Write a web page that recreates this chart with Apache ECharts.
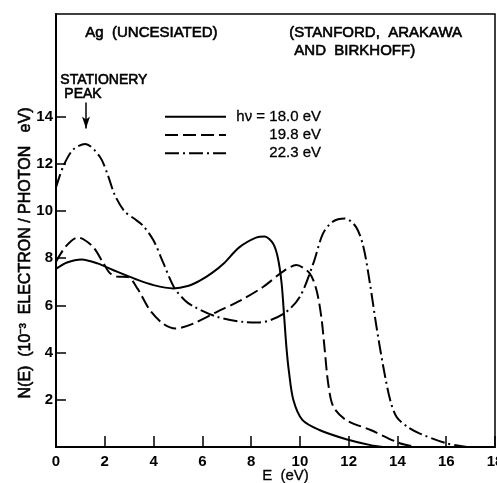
<!DOCTYPE html>
<html><head><meta charset="utf-8">
<script src="https://cdn.jsdelivr.net/npm/echarts@6/dist/echarts.min.js"></script>
<style>html,body{margin:0;padding:0;background:#fff}#c{width:497px;height:483px}</style>
</head><body><div id="c"></div>
<script>
const xTicks = [0,2,4,6,8,10,12,14,16,18];
const yTicks = [2,4,6,8,10,12,14];
const seriesNames = ['hν = 18.0 eV','19.8 eV','22.3 eV'];
const curve18 = [[0,7.55],[0.45,7.82],[1.05,7.95],[1.7,7.78],[2.5,7.43],[3.3,7.1],[4.0,6.86],[4.8,6.72],[5.4,6.82],[5.9,7.05],[6.4,7.38],[6.9,7.8],[7.5,8.45],[8.2,8.87],[8.55,8.92],[8.9,8.62],[9.1,8.0],[9.25,6.94],[9.35,5.6],[9.45,4.2],[9.55,3.2],[9.73,2.0],[10.1,1.15],[10.8,0.72],[11.9,0.33],[12.9,0.08],[13.4,0]];
const curve198 = [[0,7.85],[0.4,8.5],[0.9,8.88],[1.5,8.5],[1.95,7.78],[2.2,7.38],[2.5,7.22],[2.95,7.2],[3.35,6.7],[3.85,5.8],[4.4,5.22],[4.9,5.02],[5.6,5.22],[6.6,5.73],[7.55,6.2],[8.5,6.79],[9.3,7.43],[9.85,7.71],[10.4,7.36],[10.68,6.65],[10.88,5.5],[11.02,4.1],[11.16,2.7],[11.37,1.71],[11.9,1.14],[12.9,0.72],[14.1,0.16],[14.8,0]];
const curve223 = [[0,11.0],[0.3,11.9],[0.7,12.6],[1.2,12.84],[1.8,12.3],[2.15,11.45],[2.4,10.7],[2.8,10.0],[3.2,9.68],[3.55,9.4],[4.0,8.75],[4.4,7.8],[4.85,6.75],[5.3,6.2],[5.65,5.95],[6.6,5.52],[7.7,5.3],[8.35,5.28],[9.35,5.66],[10.0,6.37],[10.55,7.78],[10.95,9.05],[11.35,9.55],[11.85,9.68],[12.3,9.33],[12.6,8.5],[12.87,6.94],[13.14,5.1],[13.42,3.4],[13.7,2.0],[13.96,1.28],[14.4,0.86],[14.9,0.58],[16.0,0.16],[16.85,0]];
const peakArrow = [[1.23,14.6],[1.23,13.5]];

const FONT = 'Liberation Sans';
const chart = echarts.init(document.getElementById('c'), null, {renderer:'canvas'});
function mk(name, data, type){
  return {name, type:'line', data, symbol:'none', showSymbol:false, smooth:0.3,
    lineStyle:{color:'#000', width:2, type}, itemStyle:{color:'#000'}, z:3};
}
const s3 = mk(seriesNames[2], curve223, [14,4,2,4]);
s3.markLine = {silent:true, symbol:['none','arrow'], symbolSize:[6,12], label:{show:false},
  lineStyle:{color:'#000', width:1.5, type:'solid'},
  data:[[{coord:peakArrow[0]},{coord:peakArrow[1]}]]};
const txt = (t, x, y, size, extra) => Object.assign({type:'text', left:x, top:y,
  style:{text:t, font:size+'px "Liberation Sans"', fill:'#000', stroke:'#000', lineWidth:0.6}}, extra||{});
chart.setOption({
  animation:false,
  backgroundColor:'#fff',
  textStyle:{fontFamily:FONT},
  grid:{left:56, right:2, top:14, bottom:36, show:true, borderColor:'#000', borderWidth:1.5, outerBoundsMode:'none', containLabel:false},
  xAxis:{type:'value', min:0, max:18, interval:2,
    name:'E  (eV)', nameLocation:'middle', nameGap:21, nameMoveOverlap:false,
    nameTextStyle:{color:'#000', fontSize:15, fontFamily:FONT, padding:[0,0,0,20], textBorderColor:'#000', textBorderWidth:0.3},
    axisLine:{lineStyle:{color:'#000', width:2}},
    axisTick:{inside:true, length:11, lineStyle:{color:'#000', width:1.5}},
    axisLabel:{color:'#000', fontSize:15, fontWeight:'bold', fontFamily:FONT, margin:7, showMinLabel:true, showMaxLabel:true, customValues:xTicks, hideOverlap:false},
    splitLine:{show:false}},
  yAxis:{type:'value', min:0, max:18.35,
    axisLine:{lineStyle:{color:'#000', width:2}},
    axisTick:{inside:true, length:10, lineStyle:{color:'#000', width:1.5}, customValues:yTicks},
    axisLabel:{color:'#000', fontSize:15, fontWeight:'bold', fontFamily:FONT, margin:3, customValues:yTicks},
    splitLine:{show:false}},
  legend:{left:159, top:104, orient:'vertical', itemWidth:61, itemHeight:14, itemGap:3,
    data:seriesNames, itemStyle:{opacity:0},
    formatter: n => '{r|'+n+'}',
    textStyle:{color:'#000', fontFamily:FONT, fontSize:15,
      rich:{r:{width:90, align:'right', fontSize:15, fontFamily:FONT, color:'#000', textBorderColor:'#000', textBorderWidth:0.3}}}},
  graphic:[
    txt('Ag  (UNCESIATED)', 85, 25, 15),
    txt('(STANFORD,  ARAKAWA', 289, 25, 15),
    txt('AND  BIRKHOFF)', 294, 43, 15),
    txt('STATIONERY', 60, 73, 14),
    txt('PEAK', 64, 87, 14),
    {type:'text', x:26, y:253, rotation:Math.PI/2,
      style:{text:'N(E)  (10⁻³  ELECTRON / PHOTON   eV)', font:'16px "Liberation Sans"', fill:'#000', stroke:'#000', lineWidth:0.6, align:'center', verticalAlign:'middle'}}
  ],
  series:[
    mk(seriesNames[0], curve18, 'solid'),
    mk(seriesNames[1], curve198, [13,5]),
    s3
  ]
});
</script></body></html>
